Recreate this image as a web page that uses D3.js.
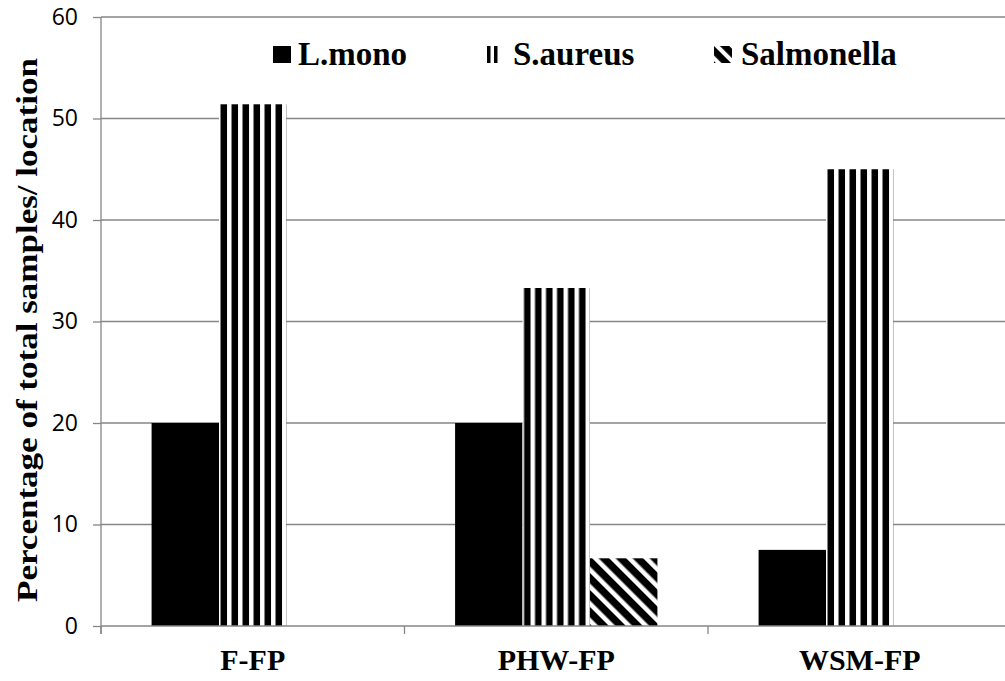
<!DOCTYPE html>
<html><head><meta charset="utf-8">
<script src="https://cdn.jsdelivr.net/npm/d3@7"></script>
<style>body{margin:0;background:#fff}</style>
</head><body>
<script>
const categories = ["F-FP", "PHW-FP", "WSM-FP"];
const seriesNames = ["L.mono", "S.aureus", "Salmonella"];
const lmono = [20, 20, 7.5];
const saureus = [51.4, 33.3, 45];
const salmonella = [0, 6.67, 0];
const yTicks = [0, 10, 20, 30, 40, 50, 60];
const yTitle = "Percentage of total samples/ location";

const SERIF = "'Liberation Serif', 'Times New Roman', Times, serif";
const W = 1005, H = 681;
const m = {left: 101, top: 17, right: 1011.5, bottom: 626};
const svg = d3.select("body").append("svg").attr("width", W).attr("height", H);
const defs = svg.append("defs");

const x0 = d3.scaleBand().domain(categories).range([m.left, m.right]).paddingInner(0).paddingOuter(0);
const groupW = x0.bandwidth() * 3 / 4.5;
const x1 = d3.scaleBand().domain(seriesNames).range([0, groupW]);
const y = d3.scaleLinear().domain([0, 60]).range([m.bottom, m.top]);

// gridlines
svg.append("g").selectAll("line").data(yTicks.filter(d => d > 0)).join("line")
  .attr("x1", m.left).attr("x2", m.right)
  .attr("y1", d => y(d)).attr("y2", d => y(d))
  .attr("stroke", "#868686").attr("stroke-width", 1.3);

const rows = [];
categories.forEach((c, i) => {
  [lmono, saureus, salmonella].forEach((arr, j) => {
    rows.push({cat: c, s: seriesNames[j], v: arr[i], id: "p" + i + "_" + j});
  });
});

function bx(d) { return x0(d.cat) + (x0.bandwidth() - groupW) / 2 + x1(d.s); }

function makePattern(id, s, ox, oy, scale) {
  scale = scale || 1;
  if (s === "S.aureus") {
    const p = defs.append("pattern").attr("id", id).attr("patternUnits", "userSpaceOnUse")
      .attr("width", 11).attr("height", 10).attr("x", ox).attr("y", oy);
    p.append("rect").attr("width", 11).attr("height", 10).attr("fill", "#fff");
    p.append("rect").attr("x", 1.5).attr("width", 6.5).attr("height", 10).attr("fill", "#000");
  } else if (s === "Salmonella") {
    const per = 12 * scale;
    const p = defs.append("pattern").attr("id", id).attr("patternUnits", "userSpaceOnUse")
      .attr("width", per).attr("height", per).attr("x", ox).attr("y", oy)
      .attr("patternTransform", "rotate(45)");
    p.append("rect").attr("width", per).attr("height", per).attr("fill", "#fff");
    p.append("rect").attr("width", per).attr("height", per * 0.62).attr("fill", "#000");
  }
}

rows.forEach(d => makePattern(d.id, d.s, bx(d), 0));

svg.append("g").selectAll("rect").data(rows.filter(d => d.v > 0)).join("rect")
  .attr("x", d => bx(d)).attr("width", x1.bandwidth())
  .attr("y", d => y(d.v)).attr("height", d => y(0) - y(d.v))
  .attr("fill", d => d.s === "L.mono" ? "#000" : `url(#${d.id})`);

// y axis
const yAxis = svg.append("g").attr("transform", `translate(${m.left},0)`)
  .call(d3.axisLeft(y).tickValues(yTicks).tickSize(8).tickPadding(15));
yAxis.select(".domain").attr("stroke", "#868686").attr("stroke-width", 1.3).attr("d", `M-0,${m.top}V${m.bottom + 8}`);
yAxis.selectAll(".tick line").attr("stroke", "#868686").attr("stroke-width", 1.3);
yAxis.selectAll("text").attr("font-family", "'Open Sans', sans-serif").attr("font-size", 23).attr("fill", "#000");

// x axis
const xAxisG = svg.append("g").attr("transform", `translate(0,${m.bottom})`);
xAxisG.append("line").attr("x1", m.left).attr("x2", m.right).attr("stroke", "#868686").attr("stroke-width", 1.3);
const bounds = categories.map(c => x0(c)).concat([m.right]);
xAxisG.selectAll("line.tk").data(bounds).join("line").attr("class", "tk")
  .attr("x1", d => d).attr("x2", d => d).attr("y1", 0).attr("y2", 8)
  .attr("stroke", "#868686").attr("stroke-width", 1.3);
xAxisG.selectAll("text").data(categories).join("text")
  .attr("x", d => x0(d) + x0.bandwidth() / 2).attr("y", 44)
  .attr("text-anchor", "middle").style("font-family", SERIF)
  .attr("font-weight", "bold").attr("font-size", 30).text(d => d);

// y title
svg.append("text").attr("transform", `translate(37,330) rotate(-90)`)
  .attr("text-anchor", "middle").style("font-family", SERIF)
  .attr("font-weight", "bold").attr("font-size", 30)
  .attr("textLength", 544).attr("lengthAdjust", "spacingAndGlyphs").text(yTitle);

// legend
const legendX = [273, 487, 714];
const textX = [298, 513, 741];
const leg = svg.append("g");
seriesNames.forEach((s, i) => {
  const lid = "leg" + i;
  if (s === "S.aureus") {
    const p = defs.append("pattern").attr("id", lid).attr("patternUnits", "userSpaceOnUse")
      .attr("width", 7).attr("height", 10).attr("x", legendX[i]);
    p.append("rect").attr("width", 7).attr("height", 10).attr("fill", "#fff");
    p.append("rect").attr("x", 0).attr("width", 3.5).attr("height", 10).attr("fill", "#000");
  } else if (s === "Salmonella") {
    makePattern(lid, s, legendX[i], 46, 0.9);
  }
  const w = s === "S.aureus" ? 12 : 18;
  leg.append("rect").attr("x", legendX[i]).attr("y", 46).attr("width", w).attr("height", 17)
    .attr("fill", s === "L.mono" ? "#000" : `url(#${lid})`);
  leg.append("text").attr("x", textX[i]).attr("y", 65)
    .style("font-family", SERIF)
    .attr("font-weight", "bold").attr("font-size", 33).text(s);
});
</script>
</body></html>
